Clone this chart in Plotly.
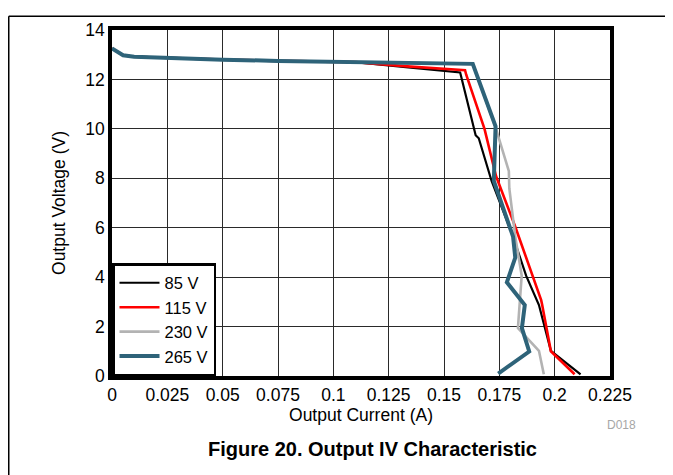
import plotly.graph_objects as go

# ---- data ----
x_85 = [0, 0.005, 0.01, 0.025, 0.05, 0.075, 0.1, 0.11, 0.135, 0.1573, 0.1643, 0.1657, 0.1715, 0.1812, 0.1871, 0.1929, 0.1983, 0.2117]
y_85 = [13.25, 12.98, 12.92, 12.87, 12.80, 12.75, 12.71, 12.70, 12.48, 12.28, 9.74, 9.62, 7.89, 5.64, 4.06, 2.87, 1.02, 0.07]

x_115 = [0, 0.005, 0.01, 0.025, 0.05, 0.075, 0.1, 0.11, 0.135, 0.1595, 0.1600, 0.1683, 0.1735, 0.1822, 0.1939, 0.1943, 0.1983, 0.2090]
y_115 = [13.25, 12.98, 12.92, 12.87, 12.80, 12.75, 12.71, 12.70, 12.52, 12.37, 12.20, 10.00, 8.09, 6.04, 3.07, 2.90, 1.00, 0.07]

x_230 = [0, 0.005, 0.01, 0.025, 0.05, 0.075, 0.1, 0.125, 0.15, 0.163, 0.1735, 0.1793, 0.1795, 0.1822, 0.1851, 0.1834, 0.1929, 0.1951]
y_230 = [13.25, 12.98, 12.92, 12.87, 12.80, 12.75, 12.71, 12.68, 12.65, 12.63, 10.00, 8.29, 7.60, 5.64, 4.06, 1.94, 1.02, 0.07]

x_265 = [0, 0.005, 0.01, 0.025, 0.05, 0.075, 0.1, 0.125, 0.15, 0.163, 0.1733, 0.1725, 0.1812, 0.1822, 0.1784, 0.1865, 0.1852, 0.1885, 0.1745]
y_265 = [13.25, 12.98, 12.92, 12.87, 12.80, 12.75, 12.71, 12.68, 12.65, 12.63, 10.10, 7.89, 5.64, 4.79, 3.79, 2.87, 1.94, 0.99, 0.10]

series_names = ["85 V", "115 V", "230 V", "265 V"]
x_ticks = [0, 0.025, 0.05, 0.075, 0.1, 0.125, 0.15, 0.175, 0.2, 0.225]
x_tick_labels = ["0", "0.025", "0.05", "0.075", "0.1", "0.125", "0.15", "0.175", "0.2", "0.225"]
y_ticks = [0, 2, 4, 6, 8, 10, 12, 14]

FONT = "Liberation Sans, Arial, sans-serif"
FS = 17.5

# plot area in figure pixels (page has an 8px body offset)
L, T, W, H = 104, 14.7, 498, 353


def px(xp):
    return (xp - L) / W


def py(yp):
    return (T + H - yp) / H


fig = go.Figure()
styles = [("#000000", 2.2), ("#ff0000", 2.6), ("#b3b3b3", 2.6), ("#2e6379", 4)]
for name, xs, ys, (c, w) in zip(series_names, [x_85, x_115, x_230, x_265],
                                [y_85, y_115, y_230, y_265], styles):
    fig.add_trace(go.Scatter(x=xs, y=ys, mode="lines", name=name,
                             line=dict(color=c, width=w)))

fig.update_layout(
    width=673, height=475,
    margin=dict(l=L, r=673 - L - W, t=15, b=475 - 15 - H),
    paper_bgcolor="white", plot_bgcolor="white",
    font=dict(family=FONT, size=FS, color="black"),
    showlegend=True,
    legend=dict(x=0, y=0, xanchor="left", yanchor="bottom",
                bgcolor="white", bordercolor="black", borderwidth=2.5,
                font=dict(size=16.5), tracegroupgap=0, itemwidth=40),
)
fig.update_xaxes(range=[0, 0.225], tickvals=x_ticks, ticktext=x_tick_labels,
                 showgrid=True, gridcolor="#2a2a2a", gridwidth=1.4,
                 showline=True, linecolor="black", linewidth=3.5, mirror=True,
                 zeroline=False, ticks="", tickfont=dict(size=FS),
                 title=dict(text="Output Current (A)", font=dict(size=FS), standoff=5))
fig.update_yaxes(range=[0, 14], tickvals=y_ticks,
                 showgrid=True, gridcolor="#2a2a2a", gridwidth=1.4,
                 showline=True, linecolor="black", linewidth=3.5, mirror=True,
                 zeroline=False, ticks="", tickfont=dict(size=FS),
                 title=dict(text="Output Voltage (V)", font=dict(size=FS), standoff=16))

# outer frame (left and top edges visible)
fig.add_shape(type="line", xref="paper", yref="paper", x0=px(0.75), x1=px(700), y0=py(0.75), y1=py(0.75),
              line=dict(color="black", width=1.5))
fig.add_shape(type="line", xref="paper", yref="paper", x0=px(0.75), x1=px(0.75), y0=py(0.75), y1=py(500),
              line=dict(color="black", width=1.5))

fig.add_annotation(text="Figure 20. Output IV Characteristic", xref="paper", yref="paper",
                   x=px(364), y=py(442), xanchor="center", yanchor="middle", showarrow=False,
                   font=dict(size=20, family=FONT, color="black", weight="bold"))
fig.add_annotation(text="D018", xref="paper", yref="paper",
                   x=px(613), y=py(418), xanchor="center", yanchor="middle", showarrow=False,
                   font=dict(size=12, family=FONT, color="#a6a6a6"))

fig.write_html("out.html")
